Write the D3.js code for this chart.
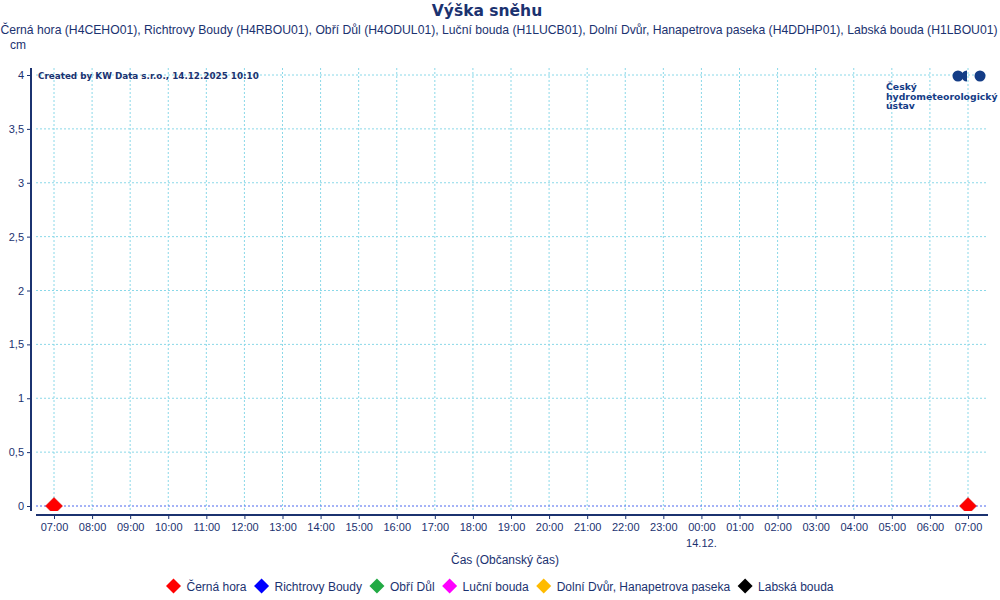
<!DOCTYPE html>
<html>
<head>
<meta charset="utf-8">
<script src="https://cdn.jsdelivr.net/npm/d3@7"></script>
<style>
  body { margin: 0; background: #fff; }
  text { font-family: "Liberation Sans", Arial, sans-serif; fill: #1b3270; }
</style>
</head>
<body>
<div id="chart"></div>
<script>
// data
const seriesNames = ['Černá hora', 'Richtrovy Boudy', 'Obří Důl', 'Luční bouda', 'Dolní Dvůr, Hanapetrova paseka', 'Labská bouda'];
const seriesCodes = ['H4CEHO01', 'H4RBOU01', 'H4ODUL01', 'H1LUCB01', 'H4DDHP01', 'H1LBOU01'];
const seriesColors = ['#ff0000', '#0000ff', '#22aa44', '#ff00ff', '#ffbb00', '#000000'];
const times = ['2025-12-13T07:00', '2025-12-14T07:00'];
const valuesCernaHora = [0, 0];
const yTicks = [0, 0.5, 1, 1.5, 2, 2.5, 3, 3.5, 4];

const width = 1000;
const height = 600;
const navy = '#1b3270';

const svg = d3.select('#chart')
  .append('svg')
  .attr('width', width)
  .attr('height', height);

const parse = d3.timeParse('%Y-%m-%dT%H:%M');
const dates = times.map(parse);

// scales
const x = d3.scaleTime()
  .domain(d3.extent(dates))
  .range([54, 968]);
const y = d3.scaleLinear()
  .domain([0, 4])
  .range([506, 75]);

const plotLeft = 31, plotRight = 988, plotTop = 68, plotBottom = 511;

// square diamond shape
function diamond(r) {
  return `M0,${-r}L${r},0L0,${r}L${-r},0Z`;
}

// title + subtitle
svg.append('text')
  .attr('x', 487).attr('y', 16)
  .attr('text-anchor', 'middle')
  .style('font-family', '"DejaVu Sans", Verdana, sans-serif')
  .style('font-weight', 'bold')
  .style('font-size', '15.5px')
  .text('Výška sněhu');

svg.append('text')
  .attr('x', 499).attr('y', 34)
  .attr('text-anchor', 'middle')
  .style('font-size', '12.2px')
  .text(seriesNames.map((n, i) => `${n} (${seriesCodes[i]})`).join(', '));

svg.append('text')
  .attr('x', 10).attr('y', 49)
  .style('font-size', '12px')
  .text('cm');

// grid
const hours = d3.timeHour.range(x.domain()[0], d3.timeMinute.offset(x.domain()[1], 1));
const grid = svg.append('g').attr('class', 'grid');
grid.selectAll('.vgrid')
  .data(hours)
  .enter()
  .append('line')
  .attr('x1', d => x(d)).attr('x2', d => x(d))
  .attr('y1', plotTop).attr('y2', plotBottom)
  .attr('stroke', '#8ad8e8')
  .attr('stroke-dasharray', '2,2');

grid.selectAll('.hgrid')
  .data(yTicks)
  .enter()
  .append('line')
  .attr('x1', 36).attr('x2', plotRight)
  .attr('y1', d => y(d)).attr('y2', d => y(d))
  .attr('stroke', d => d === 0 ? '#4a66ee' : '#8ad8e8')
  .attr('stroke-dasharray', '2,2');

// y axis
const axisY = d3.axisLeft(y)
  .tickValues(yTicks)
  .tickSize(4)
  .tickFormat(d => String(d).replace('.', ','));
const gy = svg.append('g')
  .attr('transform', `translate(${plotLeft}, 0)`)
  .call(axisY);
gy.select('.domain').remove();
gy.append('line')
  .attr('x1', 0).attr('x2', 0)
  .attr('y1', plotTop).attr('y2', plotBottom)
  .attr('stroke', navy).attr('stroke-width', 2);
gy.selectAll('.tick line').attr('stroke', navy);
gy.selectAll('.tick text')
  .attr('x', -7)
  .style('font-size', '11px')
  .style('fill', navy);

// x axis
const axisX = d3.axisBottom(x)
  .ticks(d3.timeHour.every(1))
  .tickSize(4)
  .tickFormat(d3.timeFormat('%H:%M'));
const gx = svg.append('g')
  .attr('transform', 'translate(0, 515)')
  .call(axisX);
gx.select('.domain').remove();
gx.append('line')
  .attr('x1', 36).attr('x2', plotRight)
  .attr('y1', 0).attr('y2', 0)
  .attr('stroke', navy).attr('stroke-width', 2);
gx.selectAll('.tick line').attr('stroke', navy);
gx.selectAll('.tick text')
  .attr('y', 8)
  .style('font-size', '11px')
  .style('fill', navy);

// date label under midnight
const midnight = hours.find(d => d.getHours() === 0);
svg.append('text')
  .attr('x', x(midnight)).attr('y', 547)
  .attr('text-anchor', 'middle')
  .style('font-size', '11px')
  .text(d3.timeFormat('%d.%m.')(midnight));

svg.append('text')
  .attr('x', 505).attr('y', 564)
  .attr('text-anchor', 'middle')
  .style('font-size', '12px')
  .text('Čas (Občanský čas)');

// watermark
svg.append('text')
  .attr('x', 38).attr('y', 79)
  .style('font-family', '"DejaVu Sans", Verdana, sans-serif')
  .style('font-size', '8.8px')
  .style('font-weight', 'bold')
  .text('Created by KW Data s.r.o., 14.12.2025 10:10');

// logo
const logo = svg.append('g').attr('class', 'logo');
logo.append('circle').attr('cx', 958).attr('cy', 76).attr('r', 5.5).attr('fill', '#143c86');
logo.append('path')
  .attr('d', 'M967,70.5 A5.5,5.5 0 0 0 967,81.5 Z')
  .attr('fill', '#143c86');
logo.append('circle').attr('cx', 980).attr('cy', 76).attr('r', 5.5).attr('fill', '#143c86');
['Český', 'hydrometeorologický', 'ústav'].forEach((t, i) => {
  logo.append('text')
    .attr('x', 886).attr('y', 90 + i * 9.5)
    .style('font-family', '"DejaVu Sans", Verdana, sans-serif')
    .style('font-size', '9.3px')
    .style('font-weight', 'bold')
    .style('fill', '#143c86')
    .text(t);
});

// markers (clipped at the axis)
svg.append('clipPath').attr('id', 'plotclip')
  .append('rect')
  .attr('x', 32).attr('y', plotTop)
  .attr('width', plotRight - 32).attr('height', plotBottom - plotTop);

const points = valuesCernaHora.map((v, i) => ({ date: dates[i], value: v }));
svg.append('g')
  .attr('clip-path', 'url(#plotclip)')
  .selectAll('path')
  .data(points)
  .enter()
  .append('path')
  .attr('d', diamond(8.5))
  .attr('transform', d => `translate(${x(d.date)}, ${y(d.value)})`)
  .attr('fill', seriesColors[0])
  .attr('stroke', '#cc0000')
  .attr('stroke-width', 0.5);

// legend
const legend = svg.append('g').attr('class', 'legend');
let lx = 0;
seriesNames.forEach((name, i) => {
  const item = legend.append('g');
  item.append('path')
    .attr('d', diamond(7.5))
    .attr('transform', 'translate(7, 0)')
    .attr('fill', seriesColors[i]);
  const t = item.append('text')
    .attr('x', 20).attr('y', 4.5)
    .style('font-size', '12px')
    .text(name);
  const w = 20 + t.node().getComputedTextLength();
  item.attr('transform', `translate(${lx}, 0)`);
  lx += w + 8;
});
const legendWidth = lx - 8;
legend.attr('transform', `translate(${500 - legendWidth / 2}, 586)`);
</script>
</body>
</html>
